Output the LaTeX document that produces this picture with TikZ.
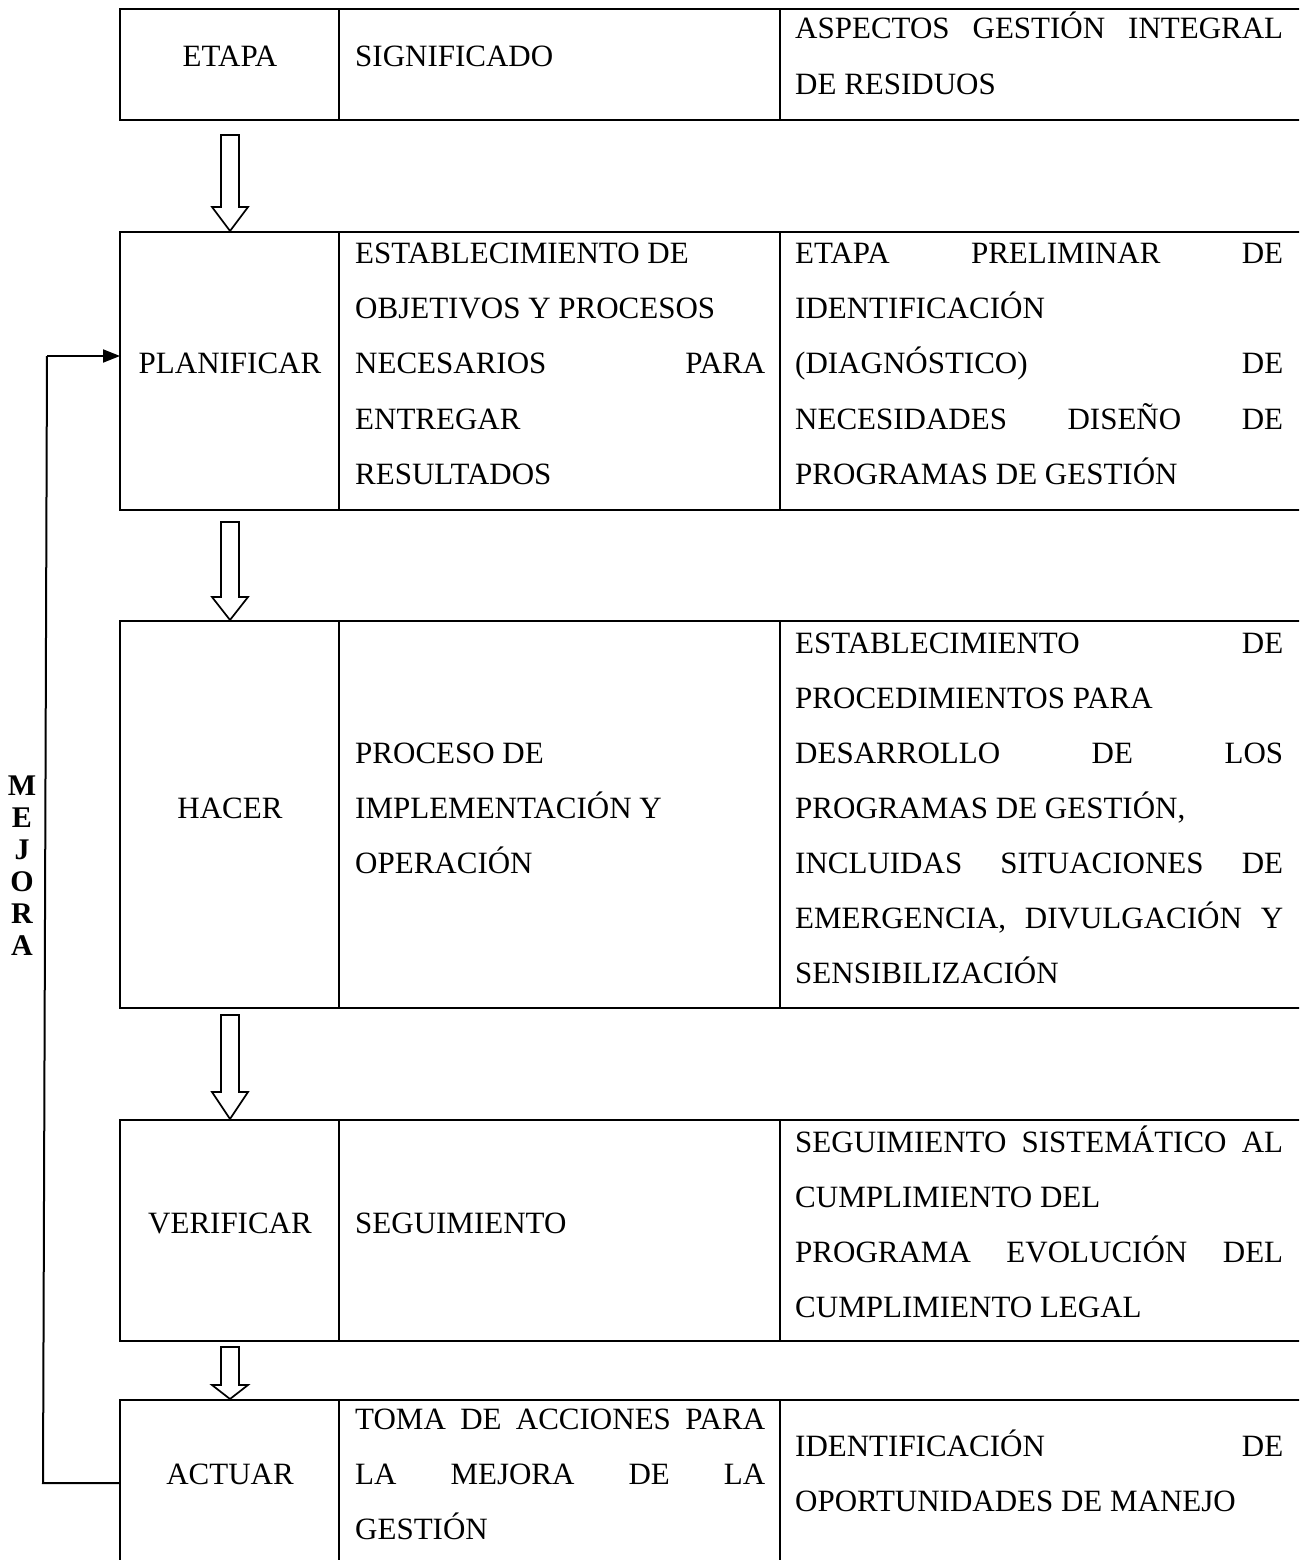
\documentclass[tikz,border=0pt]{standalone}
\usepackage{fontspec}
\setmainfont{Liberation Serif}
\usetikzlibrary{arrows.meta}
\newcommand\tline[4]{\node[txt] (#1) at (#2,#3) {#4};}
\newcommand\jline[5]{\node[txt] (#1) at (#2,#3) {\hbox to #4pt{#5}};}
\newcommand\blockarrow[3]{%
  \draw[barrow] (221,#1) -- (239,#1) -- (239,#2) -- (248,#2) -- (230,#3) -- (212,#2) -- (221,#2) -- cycle;}
\begin{document}
\begin{tikzpicture}[x=1pt,y=-1pt,
  cell/.style={draw, line width=2.6pt, inner sep=0pt, outer sep=0pt, anchor=north west},
  txt/.style={anchor=base west, inner sep=0pt, font=\fontsize{31}{37}\selectfont},
  ctxt/.style={anchor=base, inner sep=0pt, font=\fontsize{31}{37}\selectfont},
  barrow/.style={draw, line width=1.7pt, fill=white, line join=miter},
  mej/.style={font=\bfseries\fontsize{30}{32}\selectfont, align=center, inner sep=0pt},
  loop/.style={line width=2pt}
  ]
\useasboundingbox (0,0) rectangle (1299,1560);
\clip (0,0) rectangle (1299,1560);
\fill[white] (0,0) rectangle (1299,1560);

% ---- row 1
\node[cell, minimum width=219pt, minimum height=111pt] (r1c1) at (120,9) {};
\node[cell, minimum width=441pt, minimum height=111pt] (r1c2) at (339,9) {};
\node[cell, minimum width=540pt, minimum height=111pt] (r1c3) at (780,9) {};
% ---- row 2
\node[cell, minimum width=219pt, minimum height=278pt] (r2c1) at (120,232) {};
\node[cell, minimum width=441pt, minimum height=278pt] (r2c2) at (339,232) {};
\node[cell, minimum width=540pt, minimum height=278pt] (r2c3) at (780,232) {};
% ---- row 3
\node[cell, minimum width=219pt, minimum height=387pt] (r3c1) at (120,621) {};
\node[cell, minimum width=441pt, minimum height=387pt] (r3c2) at (339,621) {};
\node[cell, minimum width=540pt, minimum height=387pt] (r3c3) at (780,621) {};
% ---- row 4
\node[cell, minimum width=219pt, minimum height=221pt] (r4c1) at (120,1120) {};
\node[cell, minimum width=441pt, minimum height=221pt] (r4c2) at (339,1120) {};
\node[cell, minimum width=540pt, minimum height=221pt] (r4c3) at (780,1120) {};
% ---- row 5
\node[cell, minimum width=219pt, minimum height=200pt] (r5c1) at (120,1400) {};
\node[cell, minimum width=441pt, minimum height=200pt] (r5c2) at (339,1400) {};
\node[cell, minimum width=540pt, minimum height=200pt] (r5c3) at (780,1400) {};

% ---- block arrows
\blockarrow{135}{207}{231}
\blockarrow{522}{597}{620}
\blockarrow{1015}{1092}{1119}
\blockarrow{1347}{1385}{1399}

% ---- row 1 text
\node[ctxt] (e0) at (230,67) {ETAPA};
\tline{s0}{355}{67}{SIGNIFICADO}
\jline{a0a}{795}{39}{488}{ASPECTOS \hfill GESTIÓN \hfill INTEGRAL}
\tline{a0b}{795}{95}{DE RESIDUOS}

% ---- row 2 text
\node[ctxt] (e1) at (230,373) {PLANIFICAR};
\tline{s1a}{355}{263}{ESTABLECIMIENTO DE}
\tline{s1b}{355}{318}{OBJETIVOS Y PROCESOS}
\jline{s1c}{355}{373}{410}{NECESARIOS \hfill PARA}
\tline{s1d}{355}{429}{ENTREGAR}
\tline{s1e}{355}{484}{RESULTADOS}
\jline{a1a}{795}{263}{488}{ETAPA \hfill PRELIMINAR \hfill DE}
\tline{a1b}{795}{318}{IDENTIFICACIÓN}
\jline{a1c}{795}{373}{488}{(DIAGNÓSTICO) \hfill DE}
\jline{a1d}{795}{429}{488}{NECESIDADES \hfill DISEÑO \hfill DE}
\tline{a1e}{795}{484}{PROGRAMAS DE GESTIÓN}

% ---- row 3 text
\node[ctxt] (e2) at (230,818) {HACER};
\tline{s2a}{355}{763}{PROCESO DE}
\tline{s2b}{355}{818}{IMPLEMENTACIÓN Y}
\tline{s2c}{355}{873}{OPERACIÓN}
\jline{a2a}{795}{653}{488}{ESTABLECIMIENTO \hfill DE}
\tline{a2b}{795}{708}{PROCEDIMIENTOS PARA}
\jline{a2c}{795}{763}{488}{DESARROLLO \hfill DE \hfill LOS}
\tline{a2d}{795}{818}{PROGRAMAS DE GESTIÓN,}
\jline{a2e}{795}{873}{488}{INCLUIDAS \hfill SITUACIONES \hfill DE}
\jline{a2f}{795}{928}{488}{EMERGENCIA, \hfill DIVULGACIÓN \hfill Y}
\tline{a2g}{795}{983}{SENSIBILIZACIÓN}

% ---- row 4 text
\node[ctxt] (e3) at (230,1233) {VERIFICAR};
\tline{s3a}{355}{1233}{SEGUIMIENTO}
\jline{a3a}{795}{1152}{488}{SEGUIMIENTO \hfill SISTEMÁTICO \hfill AL}
\tline{a3b}{795}{1207}{CUMPLIMIENTO DEL}
\jline{a3c}{795}{1262}{488}{PROGRAMA \hfill EVOLUCIÓN \hfill DEL}
\tline{a3d}{795}{1317}{CUMPLIMIENTO LEGAL}

% ---- row 5 text
\node[ctxt] (e4) at (230,1484) {ACTUAR};
\jline{s4a}{355}{1429}{410}{TOMA \hfill DE \hfill ACCIONES \hfill PARA}
\jline{s4b}{355}{1484}{410}{LA \hfill MEJORA \hfill DE \hfill LA}
\tline{s4c}{355}{1539}{GESTIÓN}
\jline{a4a}{795}{1456}{488}{IDENTIFICACIÓN \hfill DE}
\tline{a4b}{795}{1511}{OPORTUNIDADES DE MANEJO}

% ---- MEJORA feedback loop
\node[mej] (mejora) at (22,866) {M\\E\\J\\O\\R\\A};
\coordinate (mb) at (43,1483);
\coordinate (mt) at (47,356);
\draw[loop] (mb -| r5c1.west) -- (mb) -- (mt);
\draw[loop, -{Triangle[length=17pt,width=13pt]}] (mt) -- (mt -| r2c1.west);
\end{tikzpicture}
\end{document}
